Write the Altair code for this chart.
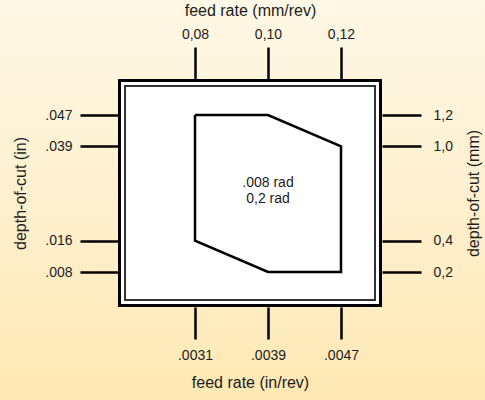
import json
import altair as alt
import pandas as pd

# ---- data ----
feed_mm = [0.08, 0.10, 0.12]
feed_mm_labels = ["0,08", "0,10", "0,12"]
feed_in_labels = [".0031", ".0039", ".0047"]
depth_mm = [1.2, 1.0, 0.4, 0.2]
depth_mm_labels = ["1,2", "1,0", "0,4", "0,2"]
depth_in_labels = [".047", ".039", ".016", ".008"]

# chip-breaking region polygon (feed mm/rev, depth mm), closed
poly_feed = [0.08, 0.10, 0.12, 0.12, 0.10, 0.08, 0.08]
poly_depth = [1.2, 1.2, 1.0, 0.2, 0.2, 0.4, 1.2]

center_lines = [".008 rad", "0,2 rad"]
center_feed = [0.10]
center_depth = [0.765]

# ---- layout ----
W, H = 264, 228
PAD = {"left": 118, "top": 79, "right": 103, "bottom": 93}
x_dom = [0.058904, 0.131233]
y_dom = [-0.0229, 1.4293]

FONT = "Liberation Sans"
TXT = "#1c1c1c"


def lab_expr(values, labels):
    return f"{json.dumps(labels)}[indexof({json.dumps(values)}, datum.value)]"


poly_df = pd.DataFrame({"f": poly_feed, "d": poly_depth, "o": list(range(len(poly_feed)))})
txt_df = pd.DataFrame({"f": center_feed, "d": center_depth,
                       "t": [center_lines]})

xs = alt.Scale(domain=x_dom, nice=False, zero=False)
ys = alt.Scale(domain=y_dom, nice=False, zero=False)

common = dict(domain=False, grid=False, ticks=True, tickColor="black", tickWidth=2.5,
              labelFont=FONT, labelFontSize=14, labelColor=TXT,
              titleFont=FONT, titleFontSize=16, titleFontWeight="normal", titleColor=TXT,
              zindex=1)

one = alt.Data(values=[{}])

bg = alt.Chart(one).mark_rect(
    clip=False,
    fill=alt.Gradient(gradient="linear", x1=0, y1=0, x2=0, y2=1,
                      stops=[alt.GradientStop(color="#FFF8E6", offset=0),
                             alt.GradientStop(color="#FEF0CF", offset=0.5),
                             alt.GradientStop(color="#FEE8B3", offset=1)]),
).encode(x=alt.value(-PAD["left"]), x2=alt.value(W + PAD["right"]),
         y=alt.value(-PAD["top"]), y2=alt.value(H + PAD["bottom"]))

outer = alt.Chart(one).mark_rect(fill="#ffffff", stroke="black", strokeWidth=3,
                                 opacity=1, fillOpacity=1).encode(
    x=alt.value(1.5), x2=alt.value(W - 1.5), y=alt.value(1.5), y2=alt.value(H - 1.5))

inner = alt.Chart(one).mark_rect(fill="#ffffff", stroke="#333333", strokeWidth=2,
                                 opacity=1, fillOpacity=1).encode(
    x=alt.value(7), x2=alt.value(W - 7), y=alt.value(7), y2=alt.value(H - 7))

poly = alt.Chart(poly_df).mark_line(color="black", strokeWidth=2.5, strokeJoin="miter").encode(
    x=alt.X("f:Q", scale=xs, axis=alt.Axis(orient="top", values=feed_mm,
                                           labelExpr=lab_expr(feed_mm, feed_mm_labels),
                                           title="feed rate (mm/rev)", tickSize=32,
                                           labelPadding=6, titlePadding=9, **common)),
    y=alt.Y("d:Q", scale=ys, axis=alt.Axis(orient="left", values=depth_mm,
                                           labelExpr=lab_expr(depth_mm, depth_in_labels),
                                           title="depth-of-cut (in)", tickSize=38,
                                           labelPadding=8, titlePadding=16, **common)),
    order="o:Q",
)

label = alt.Chart(txt_df).mark_text(font=FONT, fontSize=14, color=TXT, lineHeight=16,
                                    align="center", baseline="middle").encode(
    x=alt.X("f:Q", scale=xs, axis=alt.Axis(orient="bottom", values=feed_mm,
                                           labelExpr=lab_expr(feed_mm, feed_in_labels),
                                           title="feed rate (in/rev)", tickSize=32,
                                           labelPadding=9, titlePadding=12, **common)),
    y=alt.Y("d:Q", scale=ys, axis=alt.Axis(orient="right", values=depth_mm,
                                           labelExpr=lab_expr(depth_mm, depth_mm_labels),
                                           title="depth-of-cut (mm)", tickSize=39,
                                           labelPadding=12, titlePadding=13,
                                           titleAngle=270, titleBaseline="top", **common)),
    text="t",
)

chart = alt.layer(bg, outer, inner, poly, label).resolve_scale(
    x="independent", y="independent"
).properties(
    width=W, height=H, padding=PAD, autosize=alt.AutoSizeParams(type="none"),
    background="#FEF0CF",
).configure_view(stroke=None)

chart.save("out.html", embed_options={"renderer": "svg", "actions": False})
